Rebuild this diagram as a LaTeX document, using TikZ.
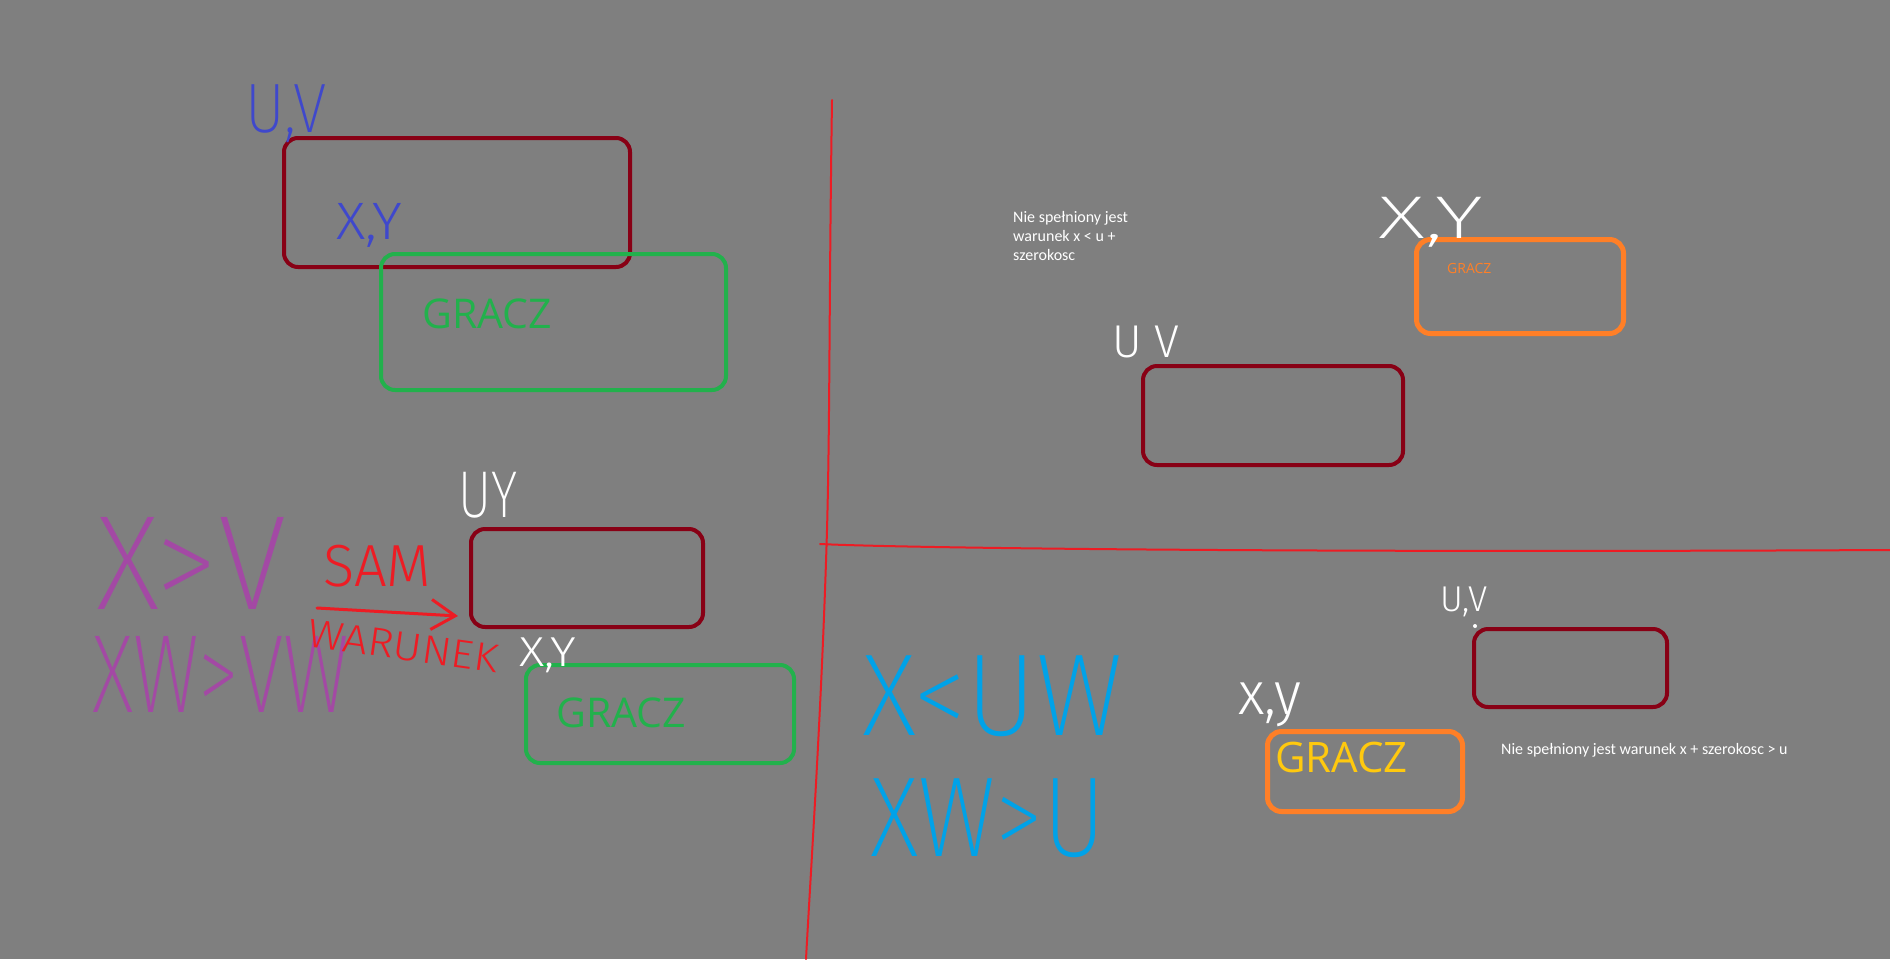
\documentclass[tikz,border=0pt]{standalone}
\usepackage{fontspec}
\usepackage{graphicx}
\setmainfont{Carlito}
\newfontfamily\uifont{Open Sans}
\newfontfamily\hand{Fira Sans Light}
\newfontfamily\handxl{Fira Sans ExtraLight}
\usetikzlibrary{arrows.meta}
\definecolor{bg}{RGB}{127,127,127}
\definecolor{pdarkred}{HTML}{880015}
\definecolor{pgreen}{HTML}{22B14C}
\definecolor{porange}{HTML}{FF7F27}
\definecolor{pyellow}{HTML}{FFC90E}
\definecolor{pindigo}{HTML}{3F48CC}
\definecolor{ppurple}{HTML}{A349A4}
\definecolor{pred}{HTML}{ED1C24}
\definecolor{pcyan}{HTML}{00A2E8}
\newcommand\hw[3]{\resizebox*{#1pt}{#2pt}{\hand #3}}
\newcommand\hwx[3]{\resizebox*{#1pt}{#2pt}{\handxl #3}}
\tikzset{
  box/.style={draw, rectangle, rounded corners=14pt, line width=4pt, inner sep=0pt, anchor=north west},
  hwn/.style={inner sep=0pt, anchor=north west},
  lbl/.style={inner sep=0pt, anchor=base west},
  note/.style={inner sep=0pt, text=white, font=\fontsize{16}{19}\selectfont},
  divider/.style={draw=pred, line width=2pt, line cap=round}
}
\begin{document}
\begin{tikzpicture}[x=1pt,y=-1pt]
\fill[bg] (0,0) rectangle (1890,959);
\useasboundingbox (0,0) rectangle (1890,959);

% dividers
\coordinate (vtop) at (832,100);
\coordinate (vmid) at (827,530);
\coordinate (vbot) at (806,959);
\coordinate (hl) at (820,544);
\coordinate (hr) at (1890,550);
\draw[divider] (vtop) .. controls (829,300) and (830,420) .. (vmid) .. controls (822,700) and (812,850) .. (vbot);
\draw[divider] (hl) .. controls (900,548) and (1300,553) .. (hr);

% top-left
\node[box, draw=pdarkred, minimum width=346pt, minimum height=129pt] (A) at (282,136) {};
\node[box, draw=pgreen, minimum width=345pt, minimum height=136pt] (B) at (379,252) {};
\node[lbl, text=pgreen, font=\uifont\fontsize{41}{41}\selectfont] (gB) at (422,328) {GRACZ};
\node[hwn, text=pindigo] (uv1) at (245,84) {\hwx{81}{58}{U,V}};
\node[hwn, text=pindigo] (xy1) at (336,203) {\hw{66}{44}{X,Y}};

% bottom-left
\node[box, draw=pdarkred, minimum width=232pt, minimum height=98pt] (C) at (469,527) {};
\node[box, draw=pgreen, minimum width=268pt, minimum height=98pt] (D) at (524,663) {};
\node[lbl, text=pgreen, font=\uifont\fontsize{41}{41}\selectfont] (gD) at (556,727) {GRACZ};
\node[hwn, text=white] (uy2) at (458,472) {\hwx{59}{46}{UY}};
\node[hwn, text=white] (xy2) at (519,638) {\hw{57}{35}{X,Y}};
\node[hwn, text=ppurple] (p1) at (96,517) {\hwx{190}{92}{X>V}};
\node[hwn, text=ppurple] (p2) at (92,636) {\hwx{257}{76}{XW>VW}};
\node[hwn, text=pred] (sam) at (323,545) {\hw{108}{42}{SAM}};
\node[inner sep=0pt, text=pred, rotate=-8] (war) at (403,646) {\hw{192}{28}{WARUNEK}};
\coordinate (arS) at (317,608);
\coordinate (arE) at (458,616);
\draw[pred, line width=3pt, line cap=round, -{Straight Barb[length=24pt,width=30pt,line width=3pt]}] (arS) -- (arE);

% top-right
\node[note, anchor=north west, align=left] (t1) at (1013,211) {Nie spełniony jest\\warunek x < u +\\szerokosc};
\node[box, draw=porange, line width=5pt, minimum width=207pt, minimum height=94pt] (E) at (1414,237) {};
\node[lbl, text=porange, font=\uifont\fontsize{14}{14}\selectfont] (gE) at (1447,273) {GRACZ};
\node[hwn, text=white] (xy3) at (1378,197) {\hwx{105}{50}{X,Y}};
\node[box, draw=pdarkred, minimum width=260pt, minimum height=99pt] (F) at (1141,364) {};
\node[hwn, text=white] (uv3) at (1112,326) {\hw{67}{32}{U V}};

% bottom-right
\node[hwn, text=pcyan] (c1) at (862,656) {\hwx{260}{81}{X<UW}};
\node[hwn, text=pcyan] (c2) at (870,778) {\hwx{235}{79}{XW>U}};
\node[box, draw=pdarkred, minimum width=193pt, minimum height=78pt] (G) at (1472,627) {};
\node[hwn, text=white] (uv4) at (1440,587) {\hw{47}{30}{U,V}};
\fill[white] (1475,626) circle (2pt);
\node[box, draw=porange, line width=5pt, minimum width=195pt, minimum height=80pt] (H) at (1265,729) {};
\node[lbl, text=pyellow, font=\uifont\fontsize{42}{42}\selectfont] (gH) at (1275,772) {GRACZ};
\node[hwn, text=white] (xy4) at (1238,683) {\hw{63}{44}{x,y}};
\node[note, lbl] (t2) at (1501,754) {Nie spełniony jest warunek x + szerokosc > u};
\end{tikzpicture}
\end{document}
